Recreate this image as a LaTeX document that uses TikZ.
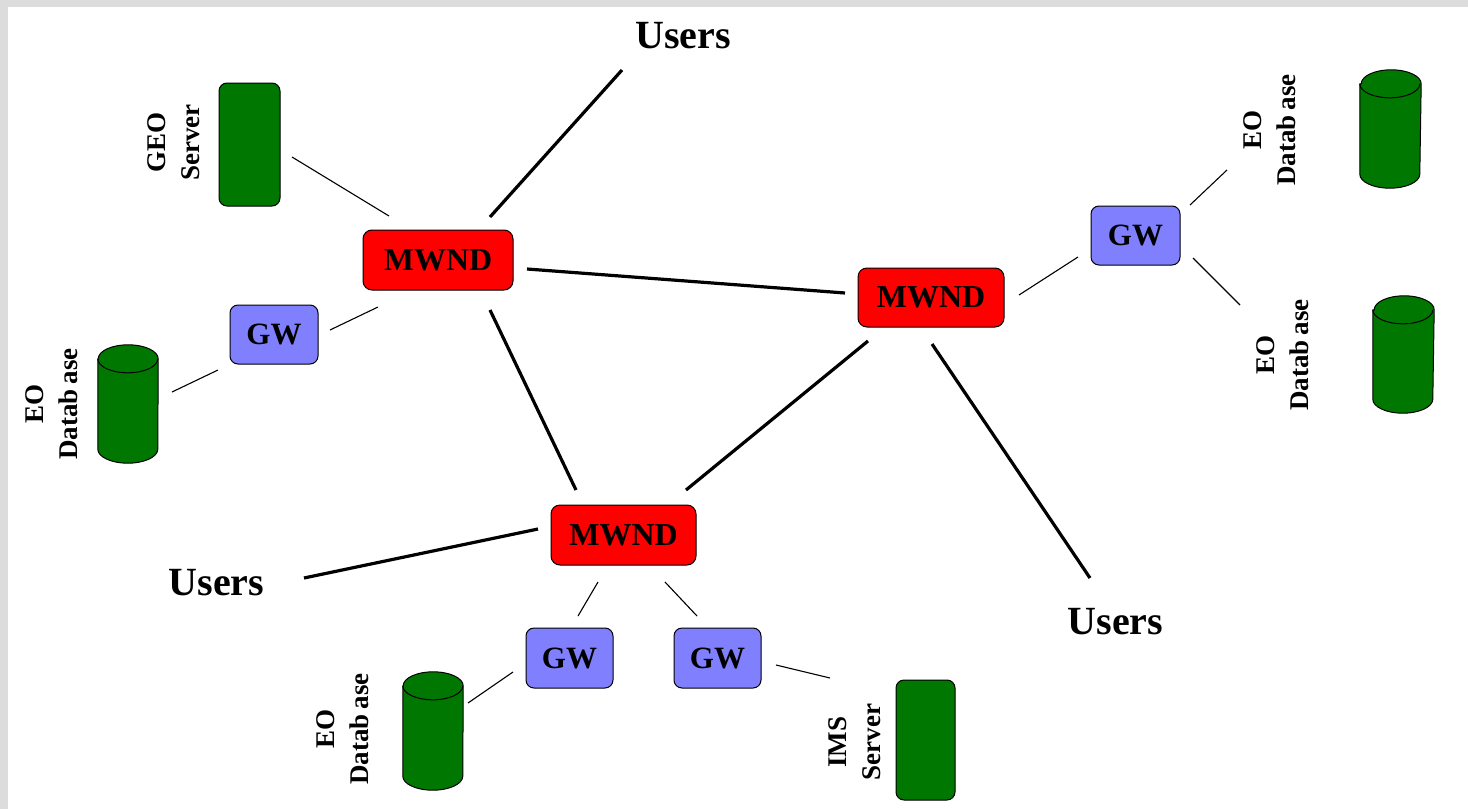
\documentclass[tikz,border=0pt]{standalone}
\usepackage{fontspec}
\setmainfont{Liberation Serif}
\usetikzlibrary{calc}
\definecolor{mwred}{HTML}{FF0000}
\definecolor{gwblue}{HTML}{8080FF}
\definecolor{srvgreen}{HTML}{007700}
\definecolor{bordergray}{HTML}{DCDCDC}
\newcommand\dbcyl[1]{%
  \draw[line width=1pt, fill=srvgreen] ([yshift=-14pt]#1.north west) -- ([yshift=14pt]#1.south west)
    arc[start angle=180, end angle=360, x radius=30pt, y radius=14pt]
    -- ([yshift=-14pt]#1.north east)
    arc[start angle=0, end angle=180, x radius=30pt, y radius=14pt] -- cycle;
  \draw[line width=1pt] ([yshift=-14pt]#1.north west)
    arc[start angle=180, end angle=360, x radius=30pt, y radius=14pt];
}
\begin{document}
\begin{tikzpicture}[x=1pt,y=-1pt,
  mwnd/.style={draw=black, line width=1pt, fill=mwred, rounded corners=9pt, minimum width=150pt, minimum height=60pt, inner sep=0pt, font=\fontsize{32}{36}\selectfont\bfseries},
  gw/.style={draw=black, line width=1pt, fill=gwblue, rounded corners=8pt, minimum width=88pt, minimum height=59pt, inner sep=0pt, font=\fontsize{31}{36}\selectfont\bfseries},
  users/.style={inner sep=0pt, font=\fontsize{40}{44}\selectfont\bfseries},
  server/.style={draw=black, line width=1pt, fill=srvgreen, rounded corners=8pt, inner sep=0pt},
  dbbox/.style={inner sep=0pt, minimum width=60pt, minimum height=118pt},
  lbl/.style={rotate=90, align=center, inner sep=0pt, font=\fontsize{27}{34}\selectfont\bfseries},
  heavy/.style={line width=3.2pt},
  light/.style={line width=1.1pt},
]
% background and border
\fill[bordergray] (0,0) rectangle (1468,809);
\fill[white] (8,7) rectangle (1468,809);
\useasboundingbox (0,0) rectangle (1468,809);

% users
\node[users] (uT) at (683,36) {Users};
\node[users] (uL) at (216.5,583) {Users};
\node[users] (uR) at (1115.5,621.5) {Users};

% MWND nodes
\node[mwnd] (m1) at (438,260) {MWND};
\node[mwnd, minimum width=146pt, minimum height=59pt] (m2) at (931,297.5) {MWND};
\node[mwnd, minimum width=145pt] (m3) at (623.5,535) {MWND};

% gateways
\node[gw] (g1) at (274,334.5) {GW};
\node[gw, minimum width=89pt] (g2) at (1135.5,235.5) {GW};
\node[gw, minimum width=87pt, minimum height=60pt] (g3) at (569.5,658) {GW};
\node[gw, minimum width=87pt, minimum height=60pt] (g4) at (717.5,658) {GW};

% servers
\node[server, minimum width=61pt, minimum height=123pt] (geo) at (249.5,144.5) {};
\node[server, minimum width=59pt, minimum height=120pt] (ims) at (925.5,740) {};

% databases
\node[dbbox] (dbL) at (128,404) {};
\node[dbbox, minimum width=61pt] (dbTR) at (1390.5,129) {};
\node[dbbox, minimum width=61pt, minimum height=117pt] (dbBR) at (1403.5,354.5) {};
\node[dbbox] (dbB) at (433,731) {};
\dbcyl{dbL}
\dbcyl{dbTR}
\dbcyl{dbBR}
\dbcyl{dbB}

% labels
\node[lbl] (lGeo) at (174,142.5) {GEO\\Server};
\node[lbl] (lDbL) at (52,404) {EO\\Datab\hspace{0.18em}ase};
\node[lbl] (lDbTR) at (1270,130) {EO\\Datab\hspace{0.18em}ase};
\node[lbl] (lDbBR) at (1283,355) {EO\\Datab\hspace{0.18em}ase};
\node[lbl] (lDbB) at (343,729) {EO\\Datab\hspace{0.18em}ase};
\node[lbl] (lIms) at (855,742) {IMS\\Server};

% heavy connectors
\draw[heavy] ($(uT)+(-61,34)$) -- ($(m1)+(52,-43)$);
\draw[heavy] ($(m1)+(89,9)$) -- ($(m2)+(-86,-4.5)$);
\draw[heavy] ($(m1)+(52,50)$) -- ($(m3)+(-47.5,-45)$);
\draw[heavy] ($(m2)+(-63,43.5)$) -- ($(m3)+(62.5,-45)$);
\draw[heavy] ($(m2)+(1,46.5)$) -- ($(uR)+(-25.5,-43.5)$);
\draw[heavy] ($(uL)+(87.5,-5)$) -- ($(m3)+(-85.5,-6)$);

% light connectors
\draw[light] ($(geo)+(42.5,12.5)$) -- ($(m1)+(-49,-44)$);
\draw[light] ($(g1)+(56,-4.5)$) -- ($(m1)+(-60,47)$);
\draw[light] ($(dbL)+(44,-12)$) -- ($(g1)+(-56,35.5)$);
\draw[light] ($(m2)+(88,-2.5)$) -- ($(g2)+(-57.5,21.5)$);
\draw[light] ($(g2)+(54.5,-30.5)$) -- ($(dbTR)+(-163.5,41)$);
\draw[light] ($(g2)+(57.5,22.5)$) -- ($(dbBR)+(-163.5,-49.5)$);
\draw[light] ($(m3)+(-25.5,47)$) -- ($(g3)+(8.5,-42)$);
\draw[light] ($(m3)+(41.5,47)$) -- ($(g4)+(-20.5,-42)$);
\draw[light] ($(g3)+(-56.5,14)$) -- ($(dbB)+(35,-28)$);
\draw[light] ($(g4)+(58.5,7)$) -- ($(ims)+(-95.5,-62)$);
\end{tikzpicture}
\end{document}
